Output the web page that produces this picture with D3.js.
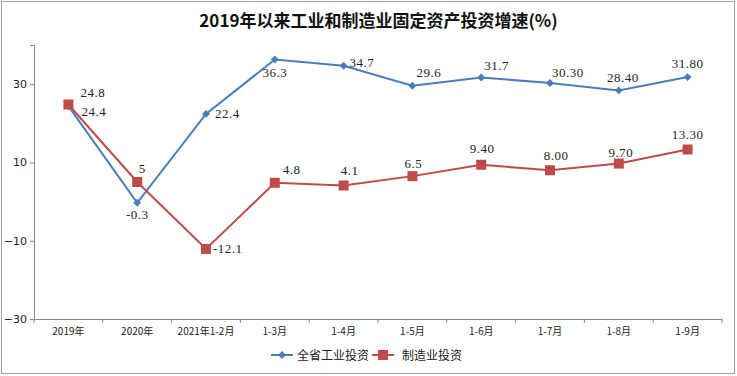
<!DOCTYPE html>
<html>
<head>
<meta charset="utf-8">
<script src="https://cdn.jsdelivr.net/npm/d3@7"></script>
<style>
    body { margin: 0; background: #fff; }
    .tick text { fill: #222; }
</style>
</head>
<body>
<div id="chart"></div>
<script>
    // data
    let categories = ["2019年", "2020年", "2021年1-2月", "1-3月", "1-4月", "1-5月", "1-6月", "1-7月", "1-8月", "1-9月"];
    let industry = [24.4, -0.3, 22.4, 36.3, 34.7, 29.6, 31.7, 30.3, 28.4, 31.8];
    let industryLabels = ["24.4", "-0.3", "22.4", "36.3", "34.7", "29.6", "31.7", "30.30", "28.40", "31.80"];
    let manufacturing = [24.8, 5, -12.1, 4.8, 4.1, 6.5, 9.4, 8.0, 9.7, 13.3];
    let manufacturingLabels = ["24.8", "5", "-12.1", "4.8", "4.1", "6.5", "9.40", "8.00", "9.70", "13.30"];
    let yTicks = [-30, -10, 10, 30];
    let seriesNames = ["全省工业投资", "制造业投资"];

    const W = 737, H = 376;
    let margin = {top: 45, right: 15, bottom: 57, left: 34},
        width = W - margin.left - margin.right,
        height = H - margin.top - margin.bottom;

    const blue = "#4a7ebb", red = "#be4b48";

    let root = d3.select("#chart").append("svg")
        .attr("width", W)
        .attr("height", H);

    // outer border
    root.append("rect")
        .attr("x", 1.5).attr("y", 1.5)
        .attr("width", W - 4).attr("height", H - 4)
        .attr("fill", "#fff")
        .attr("stroke", "#a0a0a0");

    root.append("text")
        .attr("x", W / 2 + 10)
        .attr("y", 27)
        .attr("text-anchor", "middle")
        .style("font-family", "'Noto Sans CJK SC', sans-serif")
        .style("font-weight", "bold")
        .style("font-size", "17px")
        .style("fill", "#111")
        .text("2019年以来工业和制造业固定资产投资增速(%)");

    let svg = root.append("g")
        .attr("transform", `translate(${margin.left}, ${margin.top})`);

    let x = d3.scaleBand()
        .domain(categories)
        .range([0, width]);
    let y = d3.scaleLinear()
        .domain([-30, 40])
        .range([height, 0]);

    // x axis
    let xAxis = svg.append("g")
        .attr("transform", `translate(0, ${height})`)
        .call(d3.axisBottom(x).tickSize(0).tickPadding(9));
    xAxis.select(".domain").attr("stroke", "#888");
    xAxis.selectAll("text")
        .style("font-family", "'Noto Sans CJK SC', sans-serif")
        .style("font-size", "10px");
    // boundary ticks between categories
    xAxis.selectAll(".bound")
        .data(categories.map((c, i) => i).concat([categories.length]))
        .join("line")
        .attr("x1", i => i * x.step())
        .attr("x2", i => i * x.step())
        .attr("y1", 0)
        .attr("y2", 4)
        .attr("stroke", "#888");

    // y axis
    let yAxis = svg.append("g")
        .call(d3.axisLeft(y).tickValues(yTicks).tickSize(4).tickPadding(3));
    yAxis.select(".domain").attr("stroke", "#888");
    yAxis.selectAll(".tick line").attr("stroke", "#888");
    yAxis.selectAll("text")
        .style("font-family", "'DejaVu Sans', sans-serif")
        .style("font-size", "11px");

    let cx = c => x(c) + x.bandwidth() / 2;
    let line = d3.line()
        .x((d, i) => cx(categories[i]))
        .y(d => y(d));

    // lines
    svg.append("path")
        .datum(industry)
        .attr("d", line)
        .attr("fill", "none")
        .attr("stroke", blue)
        .attr("stroke-width", 2);
    svg.append("path")
        .datum(manufacturing)
        .attr("d", line)
        .attr("fill", "none")
        .attr("stroke", red)
        .attr("stroke-width", 2);

    // markers
    svg.selectAll(".diamond")
        .data(industry)
        .join("path")
        .attr("class", "diamond")
        .attr("d", d3.symbol(d3.symbolDiamond2, 40))
        .attr("transform", (d, i) => `translate(${cx(categories[i])}, ${y(d)})`)
        .attr("fill", blue);
    svg.selectAll(".square")
        .data(manufacturing)
        .join("rect")
        .attr("class", "square")
        .attr("x", (d, i) => cx(categories[i]) - 5)
        .attr("y", d => y(d) - 5)
        .attr("width", 10)
        .attr("height", 10)
        .attr("fill", red);

    // label offsets [dx, dy, anchor]
    let industryOff = [[13, 10, "start"], [0, 16, "middle"], [9, 4, "start"], [0, 18, "middle"], [6, 1, "start"],
                       [4, -9, "start"], [3, -7, "start"], [2, -6, "start"], [4, -8, "middle"], [0, -9, "middle"]];
    let manuOff = [[12, -7, "start"], [5, -9, "middle"], [7, 4, "start"], [8, -9, "start"], [6, -11, "middle"],
                   [1, -8, "middle"], [1, -12, "middle"], [6, -10, "middle"], [2, -7, "middle"], [0, -11, "middle"]];

    function labels(vals, texts, off){
        svg.selectAll(null)
            .data(vals)
            .join("text")
            .attr("x", (d, i) => cx(categories[i]) + off[i][0])
            .attr("y", (d, i) => y(d) + off[i][1])
            .attr("text-anchor", (d, i) => off[i][2])
            .style("font-family", "'Liberation Serif', serif")
            .style("font-size", "13px")
            .style("letter-spacing", "0.5px")
            .style("fill", "#222")
            .text((d, i) => texts[i]);
    }
    labels(industry, industryLabels, industryOff);
    labels(manufacturing, manufacturingLabels, manuOff);

    // legend
    let legend = root.append("g").attr("transform", "translate(271, 355)");
    legend.append("line").attr("x1", 0).attr("x2", 22).attr("stroke", blue).attr("stroke-width", 2);
    legend.append("path").attr("d", d3.symbol(d3.symbolDiamond2, 40)).attr("transform", "translate(11,0)").attr("fill", blue);
    legend.append("text").attr("x", 26).attr("y", 4.5)
        .style("font-family", "'Noto Sans CJK SC', sans-serif").style("font-size", "12px").style("fill", "#222")
        .text(seriesNames[0]);
    legend.append("line").attr("x1", 101).attr("x2", 123).attr("stroke", red).attr("stroke-width", 2);
    legend.append("rect").attr("x", 107).attr("y", -5).attr("width", 10).attr("height", 10).attr("fill", red);
    legend.append("text").attr("x", 131).attr("y", 4.5)
        .style("font-family", "'Noto Sans CJK SC', sans-serif").style("font-size", "12px").style("fill", "#222")
        .text(seriesNames[1]);
</script>
</body>
</html>
